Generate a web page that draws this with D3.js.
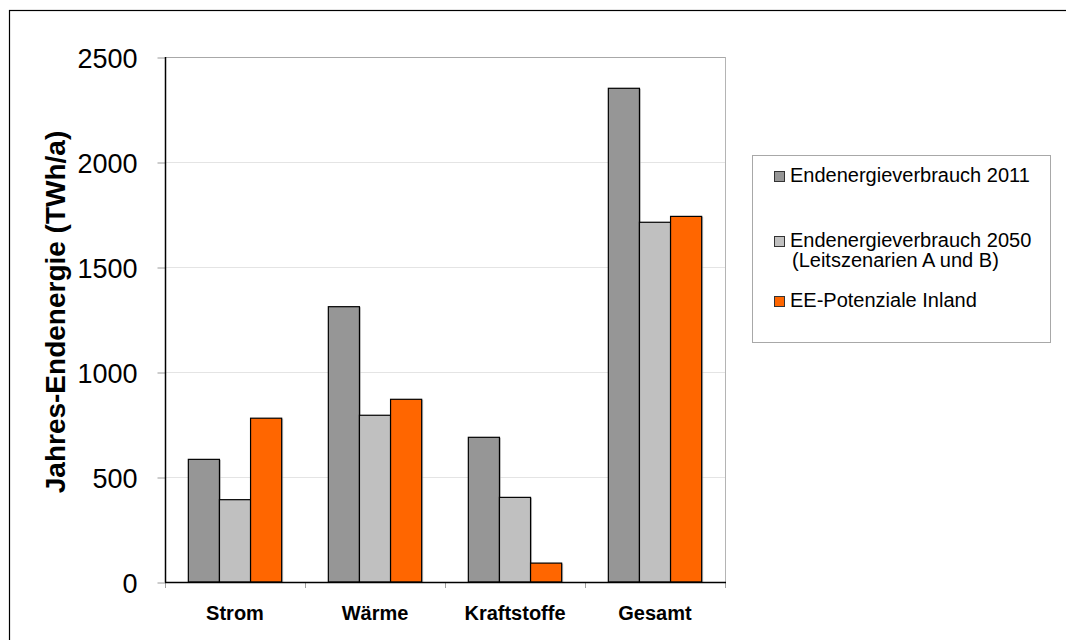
<!DOCTYPE html>
<html>
<head>
<meta charset="utf-8">
<script src="https://cdn.jsdelivr.net/npm/d3@7"></script>
<style>
  html, body { margin: 0; padding: 0; background: #fff; }
  svg { display: block; font-family: "Liberation Sans", Arial, sans-serif; }
</style>
</head>
<body>
<svg id="chart" width="1066" height="640"></svg>
<script>
// Endenergie nach Sektoren (TWh/a)
const categories = ["Strom", "Wärme", "Kraftstoffe", "Gesamt"];
const seriesNames = [
  ["Endenergieverbrauch 2011"],
  ["Endenergieverbrauch 2050", "(Leitszenarien A und B)"],
  ["EE-Potenziale Inland"]
];
const verbrauch2011 = [584, 1311, 689, 2351];
const verbrauch2050 = [392, 794, 403, 1713];
const eePotenziale = [780, 870, 90, 1741];
const yTicks = [0, 500, 1000, 1500, 2000, 2500];
const seriesColors = ["#969696", "#c0c0c0", "#ff6600"];

const series = [verbrauch2011, verbrauch2050, eePotenziale];

const svg = d3.select("#chart");

// outer frame
svg.append("rect")
  .attr("x", 9.5).attr("y", 10.5)
  .attr("width", 1200).attr("height", 800)
  .attr("fill", "none").attr("stroke", "#000").attr("stroke-width", 1.2);

const plot = { left: 165, right: 725, top: 57, bottom: 582 };

const y = d3.scaleLinear().domain([0, 2500]).range([plot.bottom, plot.top]);
const x0 = d3.scaleBand().domain(categories).range([plot.left, plot.right]).padding(0);
const x1 = d3.scaleBand().domain(d3.range(series.length))
  .range([0, x0.bandwidth()]).paddingInner(0).paddingOuter(0.75);

// gridlines
svg.append("g").selectAll("line")
  .data(yTicks.filter(t => t > 0 && t < 2500))
  .join("line")
  .attr("x1", plot.left).attr("x2", plot.right)
  .attr("y1", d => Math.round(y(d)) + 0.5).attr("y2", d => Math.round(y(d)) + 0.5)
  .attr("stroke", "#e4e4e4").attr("stroke-width", 1);

// top and right frame of plot area
svg.append("line")
  .attr("x1", plot.left).attr("x2", plot.right)
  .attr("y1", y(2500) + 0.5).attr("y2", y(2500) + 0.5)
  .attr("stroke", "#a8a8a8");
svg.append("line")
  .attr("x1", plot.right + 0.5).attr("x2", plot.right + 0.5)
  .attr("y1", plot.top).attr("y2", plot.bottom)
  .attr("stroke", "#b4b4b4");

// y axis
const yAxis = d3.axisLeft(y).tickValues(yTicks).tickSize(8).tickPadding(20)
  .tickFormat(d3.format("d"));
const gy = svg.append("g").attr("transform", `translate(${plot.left + 0.5},0.5)`).call(yAxis);
gy.select(".domain").remove();
gy.selectAll(".tick line").attr("stroke", "#9a9a9a");
gy.selectAll(".tick text")
  .attr("font-size", 27).attr("fill", "#000")
  .attr("font-family", "'Liberation Sans', Arial, sans-serif")
  .attr("dy", "0.36em");

// x axis ticks (category boundaries)
const bounds = categories.map(c => x0(c)).concat([plot.right]);
svg.append("g").selectAll("line").data(bounds).join("line")
  .attr("x1", d => d + 0.5).attr("x2", d => d + 0.5)
  .attr("y1", plot.bottom).attr("y2", plot.bottom + 6)
  .attr("stroke", "#a0a0a0");

// bars
const groups = svg.append("g").selectAll("g")
  .data(categories).join("g")
  .attr("transform", d => `translate(${x0(d)},0)`);

series.forEach((vals, si) => {
  // soft shadow on the right edge
  groups.append("rect")
    .attr("x", (d, i) => x1(si) + 1.5)
    .attr("y", (d, i) => y(vals[i]) + 0.5)
    .attr("width", x1.bandwidth())
    .attr("height", (d, i) => y(0) - y(vals[i]))
    .attr("fill", "#9a9a9a").attr("opacity", 0.6);
});
series.forEach((vals, si) => {
  groups.append("rect")
    .attr("x", (d, i) => x1(si))
    .attr("y", (d, i) => y(vals[i]))
    .attr("width", x1.bandwidth())
    .attr("height", (d, i) => y(0) - y(vals[i]))
    .attr("fill", seriesColors[si])
    .attr("stroke", "#000").attr("stroke-width", 1.2);
});

// axis lines
svg.append("line")
  .attr("x1", plot.left + 0.5).attr("x2", plot.left + 0.5)
  .attr("y1", plot.top).attr("y2", plot.bottom + 0.5)
  .attr("stroke", "#000").attr("stroke-width", 1.5);
svg.append("line")
  .attr("x1", plot.left).attr("x2", plot.right + 1)
  .attr("y1", plot.bottom + 0.5).attr("y2", plot.bottom + 0.5)
  .attr("stroke", "#000").attr("stroke-width", 1.5);

// category labels
svg.append("g").selectAll("text").data(categories).join("text")
  .attr("x", d => x0(d) + x0.bandwidth() / 2)
  .attr("y", 620)
  .attr("text-anchor", "middle")
  .attr("font-size", 20).attr("font-weight", "bold")
  .text(d => d);

// y axis title
svg.append("text")
  .attr("transform", "translate(65,312) rotate(-90)")
  .attr("text-anchor", "middle")
  .attr("font-size", 28).attr("font-weight", "bold")
  .text("Jahres-Endenergie (TWh/a)");

// legend
const legend = svg.append("g");
legend.append("rect")
  .attr("x", 752.5).attr("y", 155.5).attr("width", 298).attr("height", 187)
  .attr("fill", "#fff").attr("stroke", "#a8a8a8");
const legendY = [182, 247, 307];
seriesNames.forEach((lines, i) => {
  legend.append("rect")
    .attr("x", 774.5).attr("y", legendY[i] - 10.5).attr("width", 10).attr("height", 10)
    .attr("fill", seriesColors[i]).attr("stroke", "#333").attr("stroke-width", 1);
  lines.forEach((t, j) => {
    legend.append("text")
      .attr("x", j === 0 ? 790 : 792).attr("y", legendY[i] + j * 20)
      .attr("font-size", 20)
      .text(t);
  });
});
</script>
</body>
</html>
